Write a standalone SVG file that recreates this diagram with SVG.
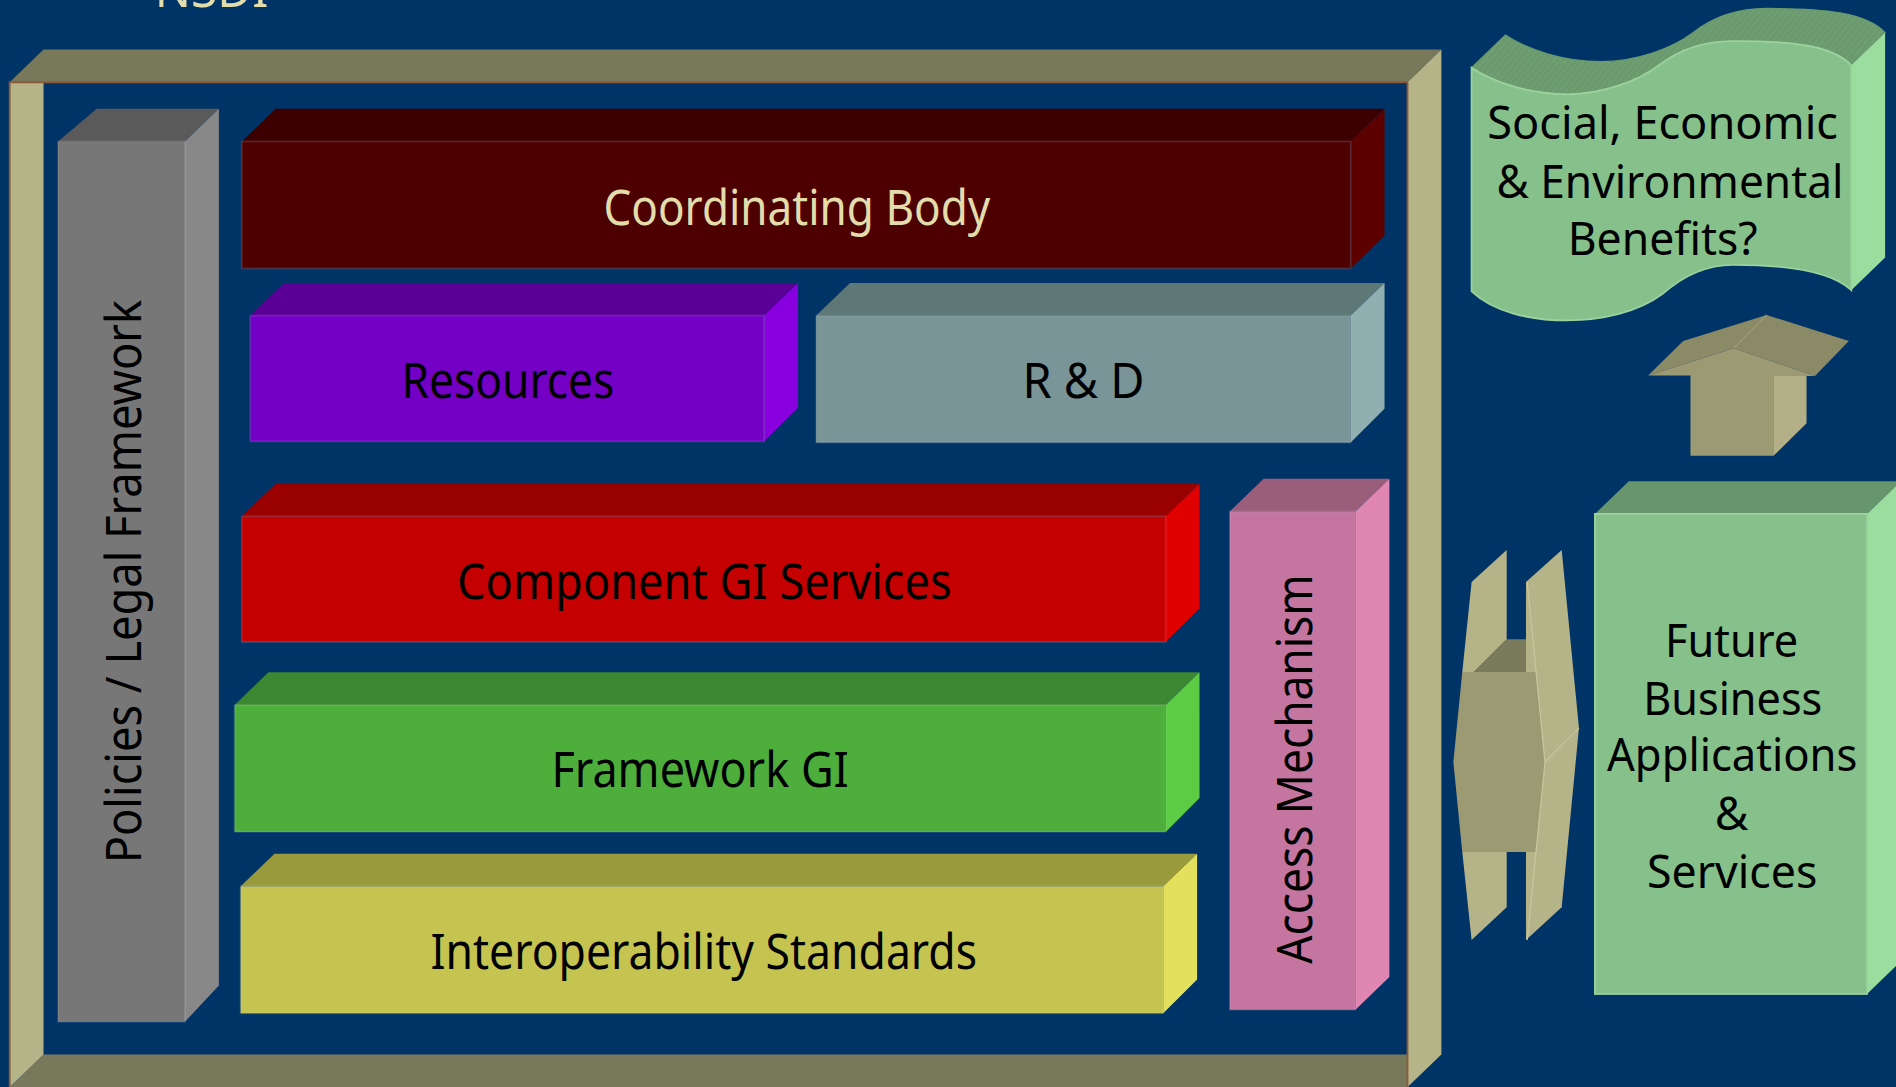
<svg xmlns="http://www.w3.org/2000/svg" width="1896" height="1087" viewBox="0 0 1896 1087">
<defs>
<style>
.t{font-family:"Noto Sans","Open Sans","DejaVu Sans",sans-serif;font-size:40px;text-anchor:middle;fill:#000}
.s{font-size:38px}
.c{fill:#E2DDAA}
.f{stroke:#ffffff;stroke-opacity:0.12;stroke-width:1.5}
.br{stroke:#8C5A3A;stroke-width:1.5;fill:none}
</style>
<pattern id="hatch" width="4" height="4" patternUnits="userSpaceOnUse" patternTransform="rotate(40)">
<rect width="4" height="4" fill="#6A9A6D"/>
<line x1="0" y1="0" x2="0" y2="4" stroke="#78A87A" stroke-width="1"/>
</pattern>
<path id="flag" d="M1217,56 C1235,68 1265,78 1296,78 C1325,78 1355,67 1372,54 C1390,40 1410,34 1433,34 C1480,34 1515,37 1531,54 L1531,240 C1515,225 1480,219 1433,219 C1410,219 1392,228 1375,243 C1355,258 1325,265 1296,265 C1265,265 1235,258 1217,241 Z"/>
</defs>
<rect width="1896" height="1087" fill="#003366"/>
<g transform="scale(1.2092)">
<text class="t c" x="175" y="5.5" textLength="94" lengthAdjust="spacingAndGlyphs">NSDI</text>

<g id="frame">
<polygon points="8,68 36,41 1192,41 1164,68" fill="#78785A"/>
<polygon points="36,872 1164,872 1164,899 8,899" fill="#78785A"/>
<polygon points="8,68 36,68 36,872 8,899" fill="#B5B388"/>
<polygon points="1164,68 1192,41 1192,872 1164,899" fill="#B5B388"/>
<path class="br" d="M8,899 L8,68 L1164,68 M1164,68 L1164,899"/>
</g>

<g id="policies">
<polygon points="48,117 80,90 181,90 153,117" fill="#5A5A5A"/>
<polygon points="153,117 181,90 181,815 153,845" fill="#888888"/>
<rect class="f" x="48" y="117" width="105" height="728" fill="#777777"/>
<text class="t" transform="translate(117,481) rotate(-90)" textLength="466" lengthAdjust="spacingAndGlyphs">Policies / Legal Framework</text>
</g>

<g id="coordinating-body">
<polygon points="200,117 228,90 1145,90 1117,117" fill="#3C0000"/>
<polygon points="1117,117 1145,90 1145,195 1117,222" fill="#5C0000"/>
<rect class="f" x="200" y="117" width="917" height="105" fill="#4C0000"/>
<text class="t c" x="659" y="186" textLength="320" lengthAdjust="spacingAndGlyphs">Coordinating Body</text>
</g>

<g id="resources">
<polygon points="207,261 235,234 660,234 632,261" fill="#5A0096"/>
<polygon points="632,261 660,234 660,337 632,365" fill="#8800E0"/>
<rect class="f" x="207" y="261" width="425" height="104" fill="#7300C4"/>
<text class="t" x="420" y="329" textLength="176" lengthAdjust="spacingAndGlyphs">Resources</text>
</g>

<g id="r-and-d">
<polygon points="675,261 703,234 1145,234 1117,261" fill="#5E7878"/>
<polygon points="1117,261 1145,234 1145,338 1117,366" fill="#8FAFB0"/>
<rect class="f" x="675" y="261" width="442" height="105" fill="#7A9598"/>
<text class="t" x="896" y="329" textLength="101" lengthAdjust="spacingAndGlyphs">R &amp; D</text>
</g>

<g id="component-gi">
<polygon points="200,427 228,400 992,400 964,427" fill="#990000"/>
<polygon points="964,427 992,400 992,503 964,531" fill="#E00000"/>
<rect class="f" x="200" y="427" width="764" height="104" fill="#C40000"/>
<text class="t" x="582.5" y="495" textLength="409" lengthAdjust="spacingAndGlyphs">Component GI Services</text>
</g>

<g id="framework-gi">
<polygon points="194,583 222,556 992,556 964,583" fill="#3C8832"/>
<polygon points="964,583 992,556 992,660 964,688" fill="#5CCC45"/>
<rect class="f" x="194" y="583" width="770" height="105" fill="#4EAE3C"/>
<text class="t" x="579" y="651" textLength="246" lengthAdjust="spacingAndGlyphs">Framework GI</text>
</g>

<g id="interoperability">
<polygon points="199,733 227,706 990,706 962,733" fill="#999A3C"/>
<polygon points="962,733 990,706 990,810 962,838" fill="#E2E05C"/>
<rect class="f" x="199" y="733" width="763" height="105" fill="#C5C450"/>
<text class="t" x="582" y="801" textLength="452" lengthAdjust="spacingAndGlyphs">Interoperability Standards</text>
</g>

<g id="access-mechanism">
<polygon points="1017,423 1045,396 1149,396 1121,423" fill="#9A5E7B"/>
<polygon points="1121,423 1149,396 1149,808 1121,835" fill="#E086B3"/>
<rect class="f" x="1017" y="423" width="104" height="412" fill="#C475A0"/>
<text class="t" transform="translate(1085,636) rotate(-90)" textLength="322" lengthAdjust="spacingAndGlyphs">Access Mechanism</text>
</g>

<g id="benefits">
<path d="M1217,56 C1235,68 1265,78 1296,78 C1325,78 1355,67 1372,54 C1390,40 1410,34 1433,34 C1480,34 1515,37 1531,54 L1559,27 C1543,10 1508,7 1461,7 C1438,7 1418,13 1400,27 C1383,40 1353,51 1324,51 C1293,51 1263,41 1245,29 Z" fill="url(#hatch)" stroke="#6A9A6D" stroke-width="1"/>
<polygon points="1531,54 1559,27 1559,213 1531,240" fill="#9BDD9E"/>
<use href="#flag" fill="#86C08A" stroke="#9BD29E" stroke-width="1.5"/>
<text class="t s" x="1375" y="115" textLength="290" lengthAdjust="spacingAndGlyphs">Social, Economic</text>
<text class="t s" x="1381" y="164" textLength="287" lengthAdjust="spacingAndGlyphs">&amp; Environmental</text>
<text class="t s" x="1375" y="211" textLength="157" lengthAdjust="spacingAndGlyphs">Benefits?</text>
</g>

<g id="future-applications">
<polygon points="1319,425 1347,398 1572,398 1544,425" fill="#68966C"/>
<polygon points="1544,425 1572,398 1572,795 1544,822" fill="#9BDD9E"/>
<rect x="1319" y="425" width="225" height="397" fill="#86C08A" stroke="#9BD29E" stroke-width="1.5"/>
<text class="t s" x="1432" y="543" textLength="110" lengthAdjust="spacingAndGlyphs">Future</text>
<text class="t s" x="1433" y="591" textLength="148" lengthAdjust="spacingAndGlyphs">Business</text>
<text class="t s" x="1432.5" y="638" textLength="207" lengthAdjust="spacingAndGlyphs">Applications</text>
<text class="t s" x="1432" y="686">&amp;</text>
<text class="t s" x="1432.5" y="734" textLength="141" lengthAdjust="spacingAndGlyphs">Services</text>
</g>

<g id="connectors">
<g id="up-arrow">
<polygon points="1466.7,311 1494,311 1494,350 1466.7,377" fill="#B3B088"/>
<polygon points="1363,310.5 1392,282 1461,260.5 1529,282 1501,311 1434,288" fill="#8A8A66"/>
<line x1="1434" y1="288" x2="1461" y2="260.5" stroke="#9A9A78" stroke-width="1"/>
<polygon points="1363,310.5 1434,288 1501,311 1467,311 1467,377 1398,377 1398,310.5" fill="#9C9A72"/>
</g>
<g id="double-arrow">
<polygon points="1262,481.3 1291.5,454.8 1305.8,602.1 1291.5,750.2 1262,777.4" fill="#B5B388"/>
<polygon points="1217,481.3 1246,454.8 1246,528.6 1219,555.7 1209.3,555.7" fill="#B5B388"/>
<polygon points="1209.3,704.6 1246,704.6 1246,750.2 1217,777.4" fill="#B5B388"/>
<polygon points="1219,555.7 1246,528.6 1262,528.6 1262,555.7" fill="#7A7A5C"/>
<polygon points="1209.3,555.7 1270,555.7 1277.7,630.2 1270,704.6 1209.3,704.6 1201.9,630.2" fill="#9C9A72"/>
<line x1="1277.7" y1="630.2" x2="1305.8" y2="602.1" stroke="#C8C6A0" stroke-width="1"/>
<line x1="1263" y1="481.3" x2="1277.7" y2="630.2" stroke="#C8C6A0" stroke-width="1"/>
<line x1="1277.7" y1="630.2" x2="1263" y2="777.4" stroke="#C8C6A0" stroke-width="1"/>
</g>
</g>
</g>
</svg>
